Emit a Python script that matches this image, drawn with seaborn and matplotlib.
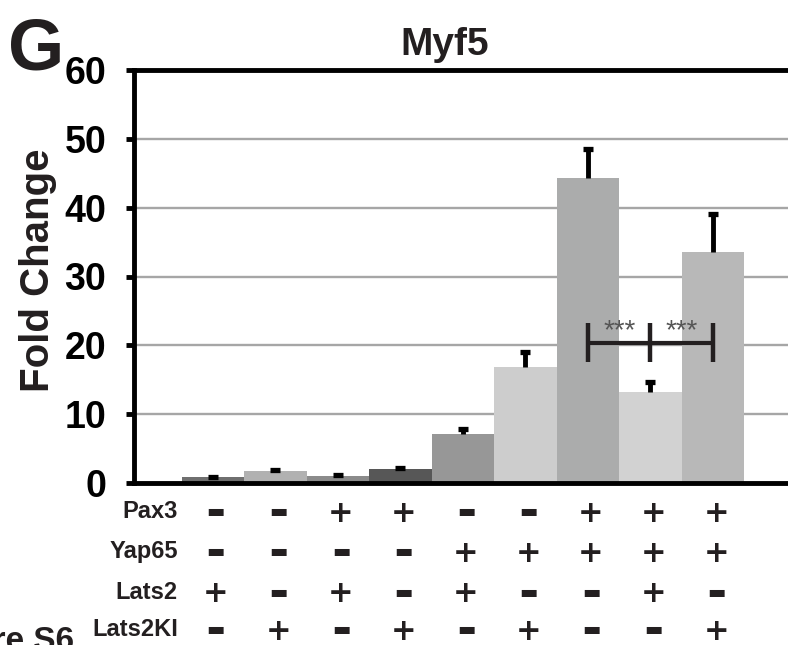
import numpy as np
import pandas as pd
import matplotlib
matplotlib.use("Agg")
import matplotlib.pyplot as plt
import seaborn as sns

# Veriler
samples = ["S1", "S2", "S3", "S4", "S5", "S6", "S7", "S8", "S9"]
fold_change = [0.9, 1.7, 1.0, 2.0, 7.1, 16.9, 44.3, 13.2, 33.5]
sem = [0.0, 0.2, 0.15, 0.2, 0.7, 2.2, 4.2, 1.5, 5.6]
bar_colors = ["#6f6f6f", "#b1b1b1", "#8b8b8b", "#575757", "#979797",
              "#cdcdcd", "#abacac", "#d2d2d2", "#b8b8b8"]

row_names = ["Pax3", "Yap65", "Lats2", "Lats2KI"]
pax3 = ["-", "-", "+", "+", "-", "-", "+", "+", "+"]
yap65 = ["-", "-", "-", "-", "+", "+", "+", "+", "+"]
lats2 = ["+", "-", "+", "-", "+", "-", "-", "+", "-"]
lats2ki = ["-", "+", "-", "+", "-", "+", "-", "-", "+"]

yticks = [0, 10, 20, 30, 40, 50, 60]

df = pd.DataFrame({"sample": samples, "fold": fold_change, "sem": sem})

sns.set_style("white")
plt.rcParams["font.family"] = ["Liberation Sans", "DejaVu Sans"]
plt.rcParams["font.weight"] = "bold"

fig = plt.figure(figsize=(7.88, 6.45), dpi=100)
ax = fig.add_axes([134 / 788, (645 - 483) / 645, 654 / 788, 413 / 645])

sns.barplot(data=df, x="sample", y="fold", hue="sample", palette=bar_colors,
            width=1.0, legend=False, errorbar=None, saturation=1, ax=ax,
            linewidth=0, zorder=2)

# sadece ust hata cubuklari
eb = ax.errorbar(np.arange(len(samples)), df["fold"],
                 yerr=[np.zeros(len(samples)), df["sem"]],
                 fmt="none", ecolor="black", elinewidth=3.5, capsize=3.8,
                 capthick=3.8, zorder=3)
eb[1][0].set_visible(False)  # alt kapaklar yok

ax.set_xlim(-1.26, 9.2)
ax.set_ylim(0, 60)
ax.set_yticks(yticks)
ax.set_yticklabels([str(t) for t in yticks], fontsize=27, fontweight="bold")
ax.set_xticks([])
ax.set_xlabel("")
ax.set_ylabel("Fold Change", fontsize=29, fontweight="bold", color="#231f20")
ax.yaxis.set_label_coords(-0.118, 0.515)

ax.grid(axis="y", color="#a6a6a6", linewidth=1.7, zorder=0)
ax.set_axisbelow(True)
ax.tick_params(axis="y", direction="out", length=6, width=3.5, pad=14,
               colors="black", left=True)
for s in ["left", "top", "bottom"]:
    ax.spines[s].set_linewidth(3.5)
    ax.spines[s].set_color("black")
ax.spines["right"].set_visible(False)

# anlamlilik parantezi
brk = "#231f20"
ax.plot([6, 8], [20.4, 20.4], color=brk, lw=3, solid_capstyle="butt", zorder=4)
for xb in [6, 7, 8]:
    ax.plot([xb, xb], [17.6, 23.2], color=brk, lw=3.2, solid_capstyle="butt", zorder=4)
for xs in [6.5, 7.5]:
    ax.text(xs, 22.0, "***", ha="center", va="center", fontsize=20,
            fontweight="normal", color="#555555", zorder=5)

# alt tablo
rows = [pax3, yap65, lats2, lats2ki]
row_y = [-0.070, -0.167, -0.264, -0.355]
tr = ax.get_xaxis_transform()
for name, vals, yy in zip(row_names, rows, row_y):
    ax.text(-0.56, yy, name, transform=tr, ha="right", va="center",
            fontsize=17, fontweight="bold", color="#231f20", clip_on=False)
    for i, v in enumerate(vals):
        if v == "+":
            ax.text(i + 0.05, yy - 0.004, "+", transform=tr, ha="center", va="center",
                    fontsize=22, fontweight="bold", color="#231f20", clip_on=False,
                    family=["DejaVu Sans"])
        else:
            ax.text(i + 0.05, yy, "\u25ac", transform=tr, ha="center", va="center",
                    fontsize=14, color="#231f20", clip_on=False,
                    family=["DejaVu Sans"])

fig.text(445 / 788, (645 - 55) / 645, "Myf5", ha="center", va="baseline",
         fontsize=28, fontweight="bold", color="#231f20")
fig.text(8 / 788, (645 - 70) / 645, "G", ha="left", va="baseline",
         fontsize=52, fontweight="bold", color="#231f20")
fig.text(74 / 788, (645 - 626) / 645, "Figure S6", ha="right", va="top",
         fontsize=24, fontweight="bold", color="#231f20")

fig.savefig("out.png", dpi=100)
